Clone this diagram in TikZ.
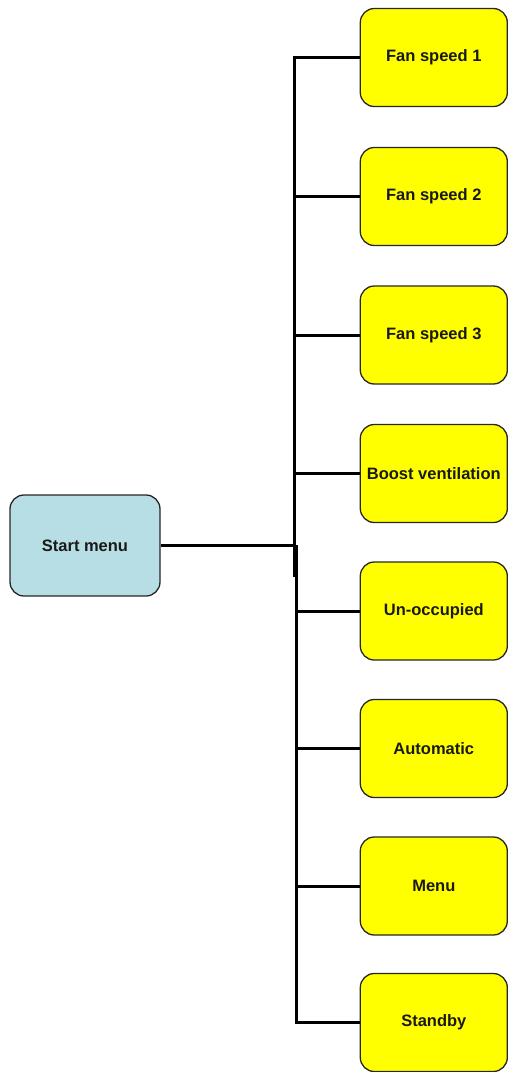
\documentclass[tikz,border=0pt]{standalone}
\usepackage{fontspec}
\setmainfont{Liberation Sans}
\definecolor{startblue}{RGB}{183,222,228}
\definecolor{optyellow}{RGB}{255,255,0}
\begin{document}
\begin{tikzpicture}[x=1pt,y=-1pt,
  box/.style={draw=black!85, line width=1.3pt, rounded corners=14pt,
    minimum width=147pt, minimum height=98pt, inner sep=0pt,
    font=\fontsize{16.5}{19}\selectfont\bfseries, text=black!90},
  opt/.style={box, fill=optyellow},
  startbox/.style={box, fill=startblue, minimum width=150pt, minimum height=101pt},
  link/.style={line width=3pt, black, line join=miter}]
\useasboundingbox (0,0) rectangle (509,1072);
\node[startbox] (start) at (85,545.5) {Start menu};
\node[opt] (b1) at (433.8,57.5) {Fan speed 1};
\node[opt] (b2) at (433.8,196.5) {Fan speed 2};
\node[opt] (b3) at (433.8,335) {Fan speed 3};
\node[opt] (b4) at (433.8,473.5) {Boost ventilation};
\node[opt] (b5) at (433.8,611) {Un-occupied};
\node[opt] (b6) at (433.8,748.5) {Automatic};
\node[opt] (b7) at (433.8,886) {Menu};
\node[opt] (b8) at (433.8,1022.5) {Standby};
\coordinate (top) at (294.5,57.5);
\coordinate (mid1) at (294.5,577);
\coordinate (mid2) at (296,545);
\coordinate (bot) at (296,1022.5);
\draw[link] (b1.west) -- (top) -- (mid1);
\draw[link] (b8.west) -- (bot) -- (mid2);
\draw[link] (start.east) -- (start.east -| mid2);
\foreach \b in {b2,b3,b4}{\draw[link] (\b.west) -- (\b.west -| top);}
\foreach \b in {b5,b6,b7}{\draw[link] (\b.west) -- (\b.west -| bot);}
\end{tikzpicture}
\end{document}
